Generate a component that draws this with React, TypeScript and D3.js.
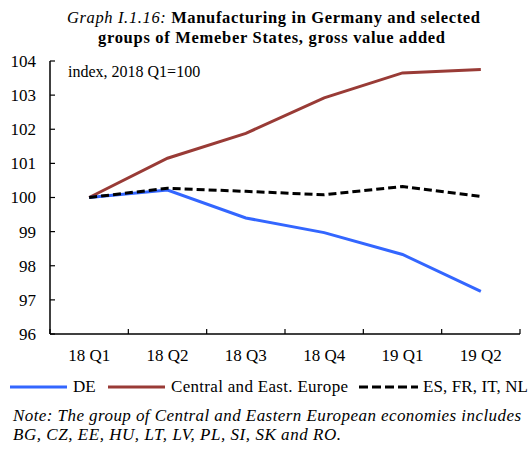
import React from "react";
import * as d3 from "d3";

const categories = ["18 Q1", "18 Q2", "18 Q3", "18 Q4", "19 Q1", "19 Q2"];
const deValues = [100, 100.22, 99.4, 98.97, 98.33, 97.25];
const ceeValues = [100, 101.15, 101.88, 102.92, 103.65, 103.75];
const esValues = [100, 100.27, 100.18, 100.08, 100.32, 100.03];
const yTicks = [96, 97, 98, 99, 100, 101, 102, 103, 104];

const W = 532;
const H = 450;
const left = 50;
const right = 520;
const top = 61;
const bottom = 334;
const font = '"Liberation Serif", "Times New Roman", serif';

export default function App() {
  const x = d3.scaleBand<string>().domain(categories).range([left, right]);
  const y = d3.scaleLinear().domain([96, 104]).range([bottom, top]);
  const line = d3
    .line<number>()
    .x((_, i) => (x(categories[i]) as number) + x.bandwidth() / 2)
    .y((d) => y(d));
  const bounds = categories.map((c) => x(c) as number).concat([right]);

  return (
    <svg
      width={W}
      height={H}
      style={{ position: "absolute", left: 0, top: 0, fontFamily: font }}
    >
      <rect width={W} height={H} fill="#fff" />
      <text x={67} y={23} fontSize={16.5} textLength={413} lengthAdjust="spacing" style={{ fontFamily: font }}>
        <tspan fontStyle="italic">Graph I.1.16:</tspan>
        <tspan fontWeight="bold"> Manufacturing in Germany and selected</tspan>
      </text>
      <text x={98} y={43} fontSize={16.5} fontWeight="bold" textLength={347} lengthAdjust="spacing" style={{ fontFamily: font }}>
        groups of Memeber States, gross value added
      </text>
      <text x={68} y={77} fontSize={16} style={{ fontFamily: font }}>index, 2018 Q1=100</text>

      {/* y axis */}
      <line x1={left} x2={left} y1={top} y2={bottom} stroke="#000" strokeWidth={1.5} />
      {yTicks.map((t) => (
        <g key={t}>
          <line x1={left} x2={left + 5} y1={y(t)} y2={y(t)} stroke="#000" strokeWidth={1.2} />
          <text x={36} y={y(t)} dy="0.35em" textAnchor="end" fontSize={17} style={{ fontFamily: font }}>
            {t}
          </text>
        </g>
      ))}
      {/* x axis */}
      <line x1={left} x2={right} y1={bottom} y2={bottom} stroke="#000" strokeWidth={1.5} />
      {bounds.map((b, i) => (
        <line key={i} x1={b} x2={b} y1={bottom} y2={bottom - 5} stroke="#000" strokeWidth={1.2} />
      ))}
      {categories.map((c) => (
        <text
          key={c}
          x={(x(c) as number) + x.bandwidth() / 2}
          y={361}
          textAnchor="middle"
          fontSize={17}
          style={{ fontFamily: font }}
        >
          {c}
        </text>
      ))}

      <path d={line(ceeValues) as string} fill="none" stroke="#993b36" strokeWidth={3} />
      <path d={line(deValues) as string} fill="none" stroke="#3366ff" strokeWidth={3} />
      <path
        d={line(esValues) as string}
        fill="none"
        stroke="#000"
        strokeWidth={3}
        strokeDasharray="8,4"
      />

      {/* legend */}
      <line x1={10} x2={67} y1={387} y2={387} stroke="#3366ff" strokeWidth={3} />
      <text x={73} y={392} fontSize={17} style={{ fontFamily: font }}>DE</text>
      <line x1={108} x2={165} y1={387} y2={387} stroke="#993b36" strokeWidth={3} />
      <text x={171} y={392} fontSize={17} textLength={177} lengthAdjust="spacing" style={{ fontFamily: font }}>
        Central and East. Europe
      </text>
      <line x1={359} x2={418} y1={387} y2={387} stroke="#000" strokeWidth={3} strokeDasharray="9,4" />
      <text x={423} y={392} fontSize={17} textLength={105} lengthAdjust="spacing" style={{ fontFamily: font }}>
        ES, FR, IT, NL
      </text>

      <text x={13} y={421} fontSize={17} fontStyle="italic" textLength={508} lengthAdjust="spacing" style={{ fontFamily: font }}>
        Note: The group of Central and Eastern European economies includes
      </text>
      <text x={13} y={440} fontSize={17} fontStyle="italic" textLength={328} lengthAdjust="spacing" style={{ fontFamily: font }}>
        BG, CZ, EE, HU, LT, LV, PL, SI, SK and RO.
      </text>
    </svg>
  );
}
